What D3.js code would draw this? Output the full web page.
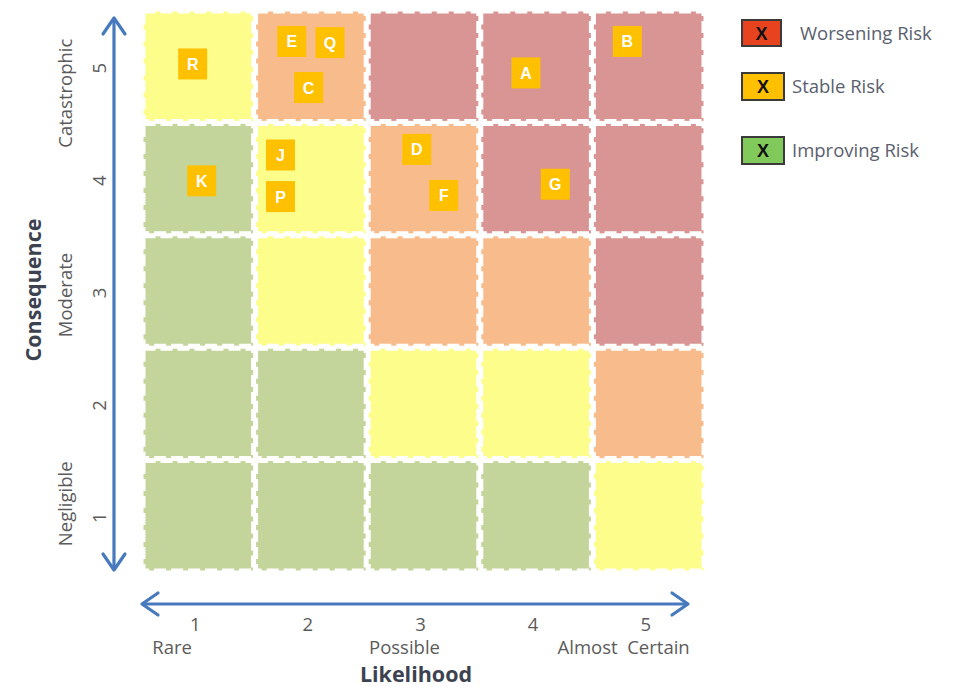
<!DOCTYPE html>
<html>
<head>
<meta charset="utf-8">
<script src="https://cdn.jsdelivr.net/npm/d3@7"></script>
<style>
  html, body { margin: 0; padding: 0; background: #ffffff; }
  svg { display: block; }
</style>
</head>
<body>
<svg id="chart" width="964" height="687"></svg>
<script>
// Risk matrix: likelihood (columns 1..5) against consequence (rows 1..5)
const likelihoodTicks = ["1", "2", "3", "4", "5"];
const consequenceTicks = ["1", "2", "3", "4", "5"];
const likelihoodNames = ["Rare", "Possible", "Almost  Certain"];
const consequenceNames = ["Negligible", "Moderate", "Catastrophic"];

// Rating of each cell, top row = consequence 5, left column = likelihood 1
const ratingGrid = [
  ["medium", "high",   "extreme", "extreme", "extreme"],
  ["low",    "medium", "high",    "extreme", "extreme"],
  ["low",    "medium", "high",    "high",    "extreme"],
  ["low",    "low",    "medium",  "medium",  "high"],
  ["low",    "low",    "low",     "low",     "medium"]
];

// Individual risks placed inside the matrix
const riskIds         = ["R",  "E",  "Q",  "C",  "A",  "B",  "K",  "J",  "P",  "D",  "F",  "G"];
const riskLikelihood  = [0.95, 1.83, 2.17, 1.98, 3.91, 4.81, 1.03, 1.73, 1.73, 2.94, 3.18, 4.17];
const riskConsequence = [5.02, 5.22, 5.21, 4.81, 4.94, 5.22, 3.98, 4.21, 3.84, 4.26, 3.85, 3.95];

// Legend entries
const legendLabels = ["Worsening Risk", "Stable Risk", "Improving Risk"];
const legendMarks = ["X", "X", "X"];

const ratingColor = {
  low: "#c3d59b",
  medium: "#fdfd8b",
  high: "#f8bb8b",
  extreme: "#d99594"
};
const legendColors = ["#e8431f", "#ffc000", "#80c95a"];

const svg = d3.select("#chart");
const x = d3.scaleLinear().domain([0.5, 5.5]).range([142, 705]);
const y = d3.scaleLinear().domain([0.5, 5.5]).range([572, 10]);

const labelFont = "'Open Sans', Lato, sans-serif";
const labelColor = "#5b5b5b";
const titleColor = "#3d4250";
const axisBlue = "#4779bd";

// Cells
const cells = [];
ratingGrid.forEach((row, ri) => {
  row.forEach((rating, ci) => {
    cells.push({ lik: ci + 1, con: 5 - ri, rating });
  });
});

svg.append("g")
  .selectAll("rect")
  .data(cells)
  .join("rect")
  .attr("x", d => x(d.lik - 0.5) + 1.5)
  .attr("y", d => y(d.con + 0.5) + 1.5)
  .attr("width", d => x(d.lik + 0.5) - x(d.lik - 0.5) - 3)
  .attr("height", d => y(d.con - 0.5) - y(d.con + 0.5) - 3)
  .attr("fill", d => ratingColor[d.rating])
  .attr("stroke", "#ffffff")
  .attr("stroke-width", 4)
  .attr("stroke-dasharray", "12 5");

// Open chevron arrow heads
function arrowHead(g, tipX, tipY, dirX, dirY) {
  const len = 16, half = 11;
  const bx = tipX - dirX * len, by = tipY - dirY * len;
  const px = -dirY, py = dirX;
  g.append("path")
    .attr("d", `M${bx + px * half},${by + py * half}L${tipX},${tipY}L${bx - px * half},${by - py * half}`)
    .attr("fill", "none")
    .attr("stroke", axisBlue)
    .attr("stroke-width", 3.2)
    .attr("stroke-linecap", "round")
    .attr("stroke-linejoin", "round");
}

const arrows = svg.append("g");
// Vertical consequence axis
const axX = 114;
arrows.append("line")
  .attr("x1", axX).attr("x2", axX)
  .attr("y1", y(5.5) + 8).attr("y2", y(0.5) - 2)
  .attr("stroke", axisBlue).attr("stroke-width", 3.2);
arrowHead(arrows, axX, y(5.5) + 8, 0, -1);
arrowHead(arrows, axX, y(0.5) - 2, 0, 1);

// Horizontal likelihood axis
const axY = 604;
arrows.append("line")
  .attr("x1", x(0.5)).attr("x2", x(5.5) - 17)
  .attr("y1", axY).attr("y2", axY)
  .attr("stroke", axisBlue).attr("stroke-width", 3.2);
arrowHead(arrows, x(0.5), axY, -1, 0);
arrowHead(arrows, x(5.5) - 17, axY, 1, 0);

// Likelihood tick numbers
svg.append("g")
  .selectAll("text")
  .data(likelihoodTicks)
  .join("text")
  .attr("x", (d, i) => x(i + 1) - 3)
  .attr("y", 631)
  .attr("text-anchor", "middle")
  .attr("font-family", labelFont)
  .attr("font-size", 18.5)
  .attr("fill", labelColor)
  .text(d => d);

// Likelihood descriptors
const likNamePos = [
  { at: 1, dx: -46, anchor: "start" },
  { at: 3, dx: -19, anchor: "middle" },
  { at: 5, dx: 41, anchor: "end" }
];
svg.append("g")
  .selectAll("text")
  .data(likelihoodNames)
  .join("text")
  .attr("x", (d, i) => x(likNamePos[i].at) + likNamePos[i].dx)
  .attr("y", 654)
  .attr("text-anchor", (d, i) => likNamePos[i].anchor)
  .attr("font-family", labelFont)
  .attr("font-size", 18.5)
  .attr("fill", labelColor)
  .style("white-space", "pre")
  .text(d => d);

svg.append("text")
  .attr("x", 416)
  .attr("y", 682)
  .attr("text-anchor", "middle")
  .attr("font-family", labelFont)
  .attr("font-weight", "bold")
  .attr("font-size", 21.5)
  .attr("fill", titleColor)
  .text("Likelihood");

// Consequence tick numbers (rotated)
svg.append("g")
  .selectAll("text")
  .data(consequenceTicks)
  .join("text")
  .attr("transform", (d, i) => `translate(106,${y(i + 1) + 2}) rotate(-90)`)
  .attr("text-anchor", "middle")
  .attr("font-family", labelFont)
  .attr("font-size", 18.5)
  .attr("fill", labelColor)
  .text(d => d);

const conNamePos = [
  { at: 1, dy: -12 },
  { at: 3, dy: 4 },
  { at: 5, dy: 27 }
];
svg.append("g")
  .selectAll("text")
  .data(consequenceNames)
  .join("text")
  .attr("transform", (d, i) => `translate(72,${y(conNamePos[i].at) + conNamePos[i].dy}) rotate(-90)`)
  .attr("text-anchor", "middle")
  .attr("font-family", labelFont)
  .attr("font-size", 18.5)
  .attr("fill", labelColor)
  .text(d => d);

svg.append("text")
  .attr("transform", "translate(41,290) rotate(-90)")
  .attr("text-anchor", "middle")
  .attr("font-family", labelFont)
  .attr("font-weight", "bold")
  .attr("font-size", 21.5)
  .attr("fill", titleColor)
  .text("Consequence");

// Risk markers
const risks = riskIds.map((id, i) => ({ id, lik: riskLikelihood[i], con: riskConsequence[i] }));
const markerW = 29, markerH = 31;
const markers = svg.append("g")
  .selectAll("g")
  .data(risks)
  .join("g")
  .attr("transform", d => `translate(${x(d.lik)},${y(d.con)})`);
markers.append("rect")
  .attr("x", -markerW / 2)
  .attr("y", -markerH / 2)
  .attr("width", markerW)
  .attr("height", markerH)
  .attr("fill", "#ffc000");
markers.append("text")
  .attr("y", 6)
  .attr("text-anchor", "middle")
  .attr("font-family", "'Liberation Sans', Arial, sans-serif")
  .attr("font-weight", "bold")
  .attr("font-size", 16)
  .attr("fill", "#ffffff")
  .text(d => d.id);

// Legend
const legendRows = [33, 86, 150];
const legend = svg.append("g")
  .selectAll("g")
  .data(legendLabels)
  .join("g")
  .attr("transform", (d, i) => `translate(742,${legendRows[i]})`);
legend.append("rect")
  .attr("x", 0)
  .attr("y", -13)
  .attr("width", (d, i) => i === 0 ? 39 : 42)
  .attr("height", (d, i) => i === 0 ? 26 : 27)
  .attr("fill", (d, i) => legendColors[i])
  .attr("stroke", "#3a3a3a")
  .attr("stroke-width", 2);
legend.append("text")
  .attr("x", (d, i) => i === 0 ? 19.5 : 21)
  .attr("y", 7)
  .attr("text-anchor", "middle")
  .attr("font-family", "'Liberation Sans', Arial, sans-serif")
  .attr("font-weight", "bold")
  .attr("font-size", 18)
  .attr("fill", "#111111")
  .text((d, i) => legendMarks[i]);
legend.append("text")
  .attr("x", (d, i) => i === 0 ? 58 : 50)
  .attr("y", 7)
  .attr("font-family", labelFont)
  .attr("font-size", 18.5)
  .attr("fill", "#5a606e")
  .text(d => d);
</script>
</body>
</html>
